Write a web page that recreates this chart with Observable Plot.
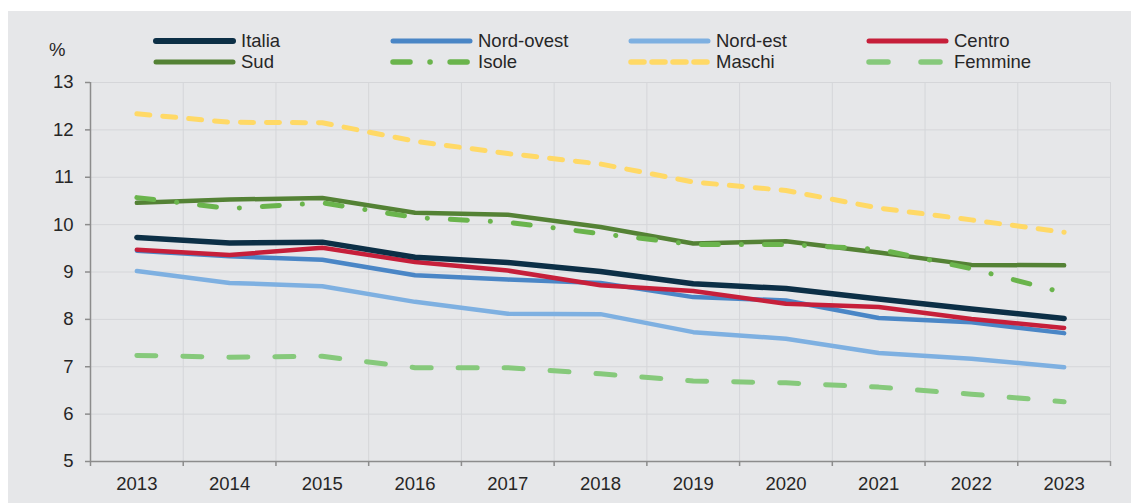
<!DOCTYPE html>
<html><head><meta charset="utf-8">
<script src="https://cdn.jsdelivr.net/npm/d3@7"></script>
<script src="https://cdn.jsdelivr.net/npm/@observablehq/plot@0.6"></script>
<style>
body{margin:0;background:#fff;font-family:"Liberation Sans",Arial,sans-serif;}
#wrap{position:relative;width:1131px;height:503px;overflow:hidden;}
#panel{position:absolute;left:8px;top:11px;width:1123px;height:492px;background:#e6e7e9;}
#legend{position:absolute;left:145px;top:19.5px;display:grid;grid-template-columns:237px 238px 238px 238px;grid-auto-rows:21px;}
.item{display:flex;align-items:center;font-size:18.5px;color:#262626;white-space:nowrap;}
.item svg{margin-right:5px;flex:none;}
#pct{position:absolute;left:41px;top:28px;font-size:18.5px;color:#262626;}
#chart{position:absolute;left:0;top:0;}
</style></head>
<body>
<div id="wrap"><div id="panel"><div id="chart"></div><div id="pct">%</div><div id="legend"></div></div></div>
<script>
const years = [2013,2014,2015,2016,2017,2018,2019,2020,2021,2022,2023];
const italia    = [9.73,9.61,9.63,9.31,9.20,9.01,8.75,8.65,8.43,8.22,8.02];
const nordOvest = [9.45,9.33,9.26,8.93,8.84,8.77,8.47,8.40,8.03,7.94,7.71];
const nordEst   = [9.02,8.77,8.70,8.37,8.12,8.11,7.73,7.59,7.29,7.17,6.99];
const centro    = [9.47,9.36,9.51,9.21,9.03,8.72,8.60,8.33,8.26,8.01,7.82];
const sud       = [10.46,10.53,10.56,10.25,10.21,9.95,9.60,9.65,9.41,9.15,9.14];
const isole     = [10.57,10.34,10.46,10.15,10.05,9.81,9.58,9.58,9.48,9.07,8.56];
const maschi    = [12.34,12.16,12.15,11.76,11.50,11.28,10.90,10.72,10.35,10.10,9.84];
const femmine   = [7.24,7.20,7.22,6.98,6.98,6.85,6.70,6.66,6.57,6.42,6.26];
const yTicks = [5,6,7,8,9,10,11,12,13];
const legendOrder = ["Italia","Nord-ovest","Nord-est","Centro","Sud","Isole","Maschi","Femmine"];

const seriesValues = {"Italia":italia,"Nord-ovest":nordOvest,"Nord-est":nordEst,"Centro":centro,"Sud":sud,"Isole":isole,"Maschi":maschi,"Femmine":femmine};
const styles = {
  "Italia":{stroke:"#0c2f46",width:5.5,dash:null},
  "Nord-ovest":{stroke:"#4a86c6",width:4.5,dash:null},
  "Nord-est":{stroke:"#7eb0e1",width:4.5,dash:null},
  "Centro":{stroke:"#c61f3a",width:4.5,dash:null},
  "Sud":{stroke:"#548235",width:4.5,dash:null},
  "Isole":{stroke:"#6ab44c",width:5,dash:"17,23,0.1,23"},
  "Maschi":{stroke:"#ffd966",width:5,dash:"13,13"},
  "Femmine":{stroke:"#86c97b",width:5,dash:"19,27"}
};
const drawOrder = ["Femmine","Maschi","Nord-est","Nord-ovest","Centro","Italia","Sud","Isole"];
const bounds = d3.range(years.length + 1).map(i => years[0] - 0.5 + i);
const table = name => years.map((yr, i) => ({year: yr, value: seriesValues[name][i]}));

const grid = "#d5d6d9", axisC = "#8c8c8c";
const plot = Plot.plot({
  width: 1123, height: 492,
  marginLeft: 82, marginRight: 21, marginTop: 71, marginBottom: 42,
  style: {background: "transparent", fontFamily: "'Liberation Sans', Arial, sans-serif", fontSize: "18.5px", color: "#262626", overflow: "visible"},
  x: {domain: [bounds[0], bounds[bounds.length - 1]]},
  y: {domain: [yTicks[0], yTicks[yTicks.length - 1]]},
  marks: [
    Plot.ruleY(yTicks.slice(1), {stroke: grid, strokeWidth: 1}),
    Plot.ruleX(bounds.slice(1), {stroke: grid, strokeWidth: 1}),
    ...drawOrder.map(name => Plot.line(table(name), {
      x: "year", y: "value", stroke: styles[name].stroke, strokeWidth: styles[name].width,
      strokeDasharray: styles[name].dash, strokeLinecap: "round", strokeLinejoin: "round"
    })),
    Plot.ruleX([bounds[0]], {stroke: axisC, strokeWidth: 1.5}),
    Plot.ruleY([yTicks[0]], {stroke: axisC, strokeWidth: 1.5}),
    Plot.axisY(yTicks, {tickSize: 5, tickPadding: 12, stroke: axisC, strokeWidth: 1.5, label: null, fill: "#262626"}),
    Plot.axisX(bounds, {tickSize: 5, tickFormat: () => "", stroke: axisC, strokeWidth: 1.5, label: null}),
    Plot.axisX(years, {tickSize: 0, tickPadding: 15, tickFormat: d => String(d), label: null, fill: "#262626"})
  ]
});
document.getElementById("chart").appendChild(plot);

const legend = document.getElementById("legend");
for (const name of legendOrder) {
  const s = styles[name];
  const item = document.createElement("div");
  item.className = "item";
  item.innerHTML = `<svg width="83" height="12"><line x1="3" y1="6" x2="80" y2="6" stroke="${s.stroke}" stroke-width="${s.width + 0.5}" stroke-linecap="round" ${s.dash ? `stroke-dasharray="${name === "Femmine" ? "19,33" : name === "Isole" ? "17,20,0.1,20" : "13,8"}"` : ""}/></svg><span>${name}</span>`;
  legend.appendChild(item);
}
</script>
</body></html>
